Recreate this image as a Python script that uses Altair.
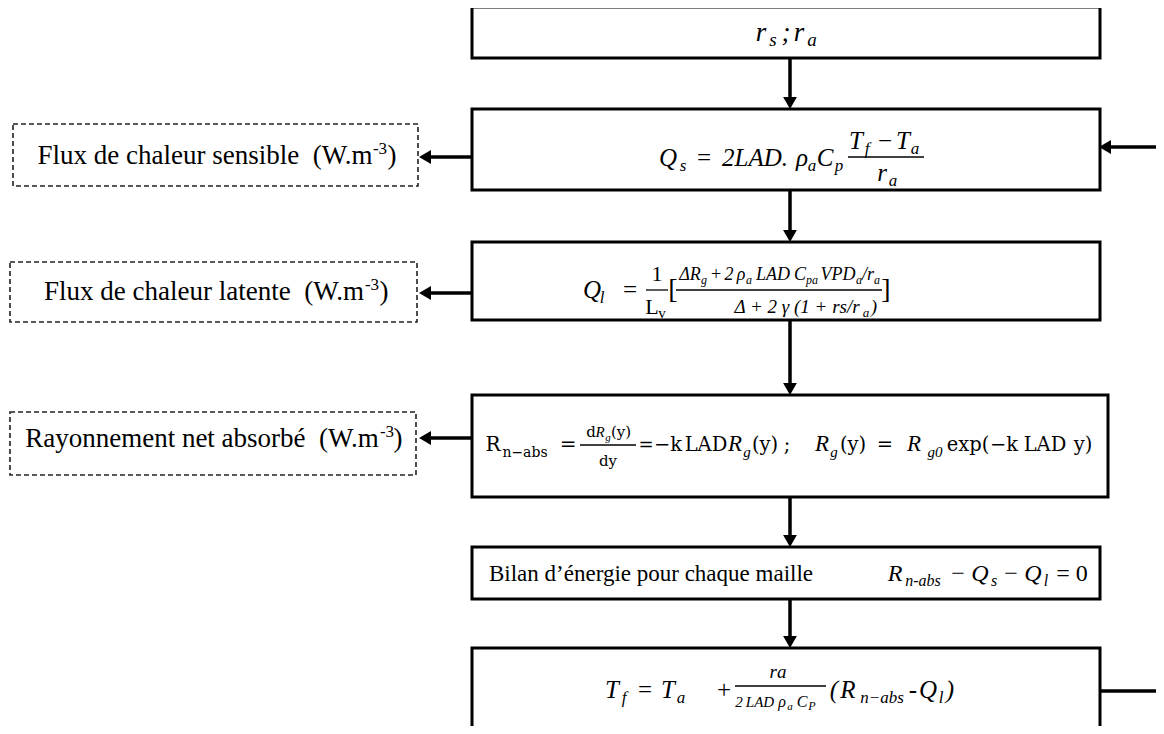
import altair as alt
import pandas as pd

NB = "\u00a0"

# ---------------- boxes (reference pixel coordinates) ----------------
box_x1 = [472, 472, 472, 472, 472, 472]
box_x2 = [1100, 1100, 1100, 1108, 1100, 1100]
box_y1 = [7, 109, 242, 395, 547, 648]
box_y2 = [58, 190, 320, 497, 599, 732]

dbox_x1 = [13, 10, 10]
dbox_x2 = [418, 417, 416]
dbox_y1 = [124, 262, 412]
dbox_y2 = [186, 322, 475]

# ---------------- connectors ----------------
seg_x1 = [790, 790, 790, 790, 790, 472, 472, 472, 1156, 1100]
seg_x2 = [790, 790, 790, 790, 790, 424, 424, 424, 1106, 1156]
seg_y1 = [58, 190, 320, 497, 599, 157, 293, 438, 147, 691]
seg_y2 = [103, 236, 389, 541, 642, 157, 293, 438, 147, 691]

head_x = [790, 790, 790, 790, 790, 425, 425, 425, 1105]
head_y = [103, 236, 389, 541, 642, 157, 293, 438, 147]
head_shape = ["triangle-down"] * 5 + ["triangle-left"] * 4

# fraction bars
bar_x1 = [848, 646, 676, 580, 735]
bar_x2 = [924, 668, 882, 636, 826]
bar_y = [157, 290, 290, 445, 686]

# ---------------- text pieces: text, centre x, baseline y, size, font key ----------------
txt = [
    # left labels
    ("Flux de chaleur sensible" + NB + NB + "(W.m", 205, 164, 27, "tr"), ("-3", 380, 154, 17, "tr"), (")", 392, 164, 27, "tr"),
    ("Flux de chaleur latente" + NB + NB + "(W.m", 204, 300, 27, "tr"), ("-3", 372, 290, 17, "tr"), (")", 384, 300, 27, "tr"),
    ("Rayonnement net absorbé" + NB + NB + "(W.m", 202, 447, 27, "tr"), ("-3", 387, 437, 17, "tr"), (")", 398, 447, 27, "tr"),
    # box 1
    ("r", 761, 41, 27, "ti"), ("s", 773, 46, 19, "ti"), (";", 786, 41, 27, "ti"),
    ("r", 799, 41, 27, "ti"), ("a", 812, 46, 19, "ti"),
    # box 2
    ("Q", 668, 166, 25, "ti"), ("s", 683, 171, 17, "ti"), ("=", 704, 166, 25, "tr"),
    ("2LAD.", 755, 166, 25, "ti"), ("ρ", 802, 166, 25, "ti"), ("a", 812, 171, 17, "ti"),
    ("C", 825, 166, 25, "ti"), ("p", 839, 171, 17, "ti"),
    ("T", 856, 149, 25, "ti"), ("f", 867, 154, 17, "ti"), ("−", 885, 149, 25, "tr"),
    ("T", 903, 149, 25, "ti"), ("a", 915, 154, 17, "ti"),
    ("r", 882, 181, 25, "ti"), ("a", 893, 186, 17, "ti"),
    # box 3
    ("Q", 592, 298, 25, "ti"), ("l", 602, 303, 17, "ti"), ("=", 630, 298, 25, "tr"),
    ("1", 657, 281, 22, "tr"), ("L", 652, 314, 22, "tr"), ("v", 662, 318, 15, "tr"),
    ("[", 673, 298, 28, "tr"),
    ("ΔR", 690, 280, 18, "ti"), ("g", 704, 284, 12, "ti"), ("+", 716, 280, 18, "tr"),
    ("2", 729, 280, 18, "ti"), ("ρ", 741, 280, 18, "ti"), ("a", 749, 284, 12, "ti"),
    ("LAD", 773, 280, 18, "ti"), ("C", 800, 280, 18, "ti"), ("pa", 812, 284, 12, "ti"),
    ("VPD", 838, 280, 18, "ti"), ("a", 859, 284, 12, "ti"), ("/r", 868, 280, 18, "ti"),
    ("a", 877, 284, 12, "ti"),
    ("Δ + 2 γ (1 + rs/r", 797, 313, 19, "ti"), ("a", 866, 317, 13, "ti"), (")", 874, 313, 19, "ti"),
    ("]", 886, 298, 28, "tr"),
    # box 4
    ("R", 493, 451, 20, "dr"), ("n−abs", 525, 457, 14, "dr"), ("=", 568, 451, 20, "dr"),
    ("d", 591, 437, 15, "dr"), ("R", 600, 437, 15, "ti"), ("g", 608, 441, 11, "ti"), ("(y)", 621, 437, 15, "dr"),
    ("dy", 608, 466, 15, "dr"),
    ("=", 646, 451, 18, "dr"), ("−k", 668, 451, 19.5, "dr"), ("LAD", 706, 451, 19.5, "dr"),
    ("R", 735, 451, 23, "ti"), ("g", 747, 457, 15, "ti"), ("(y)", 765, 451, 19.5, "dr"),
    (";", 787, 451, 19.5, "dr"), ("R", 822, 451, 23, "ti"), ("g", 834, 457, 15, "ti"),
    ("(y)", 853, 451, 19.5, "dr"), ("=", 885, 451, 19.5, "dr"), ("R", 914, 451, 23, "ti"),
    ("g0", 935, 457, 15, "ti"), ("exp(", 968, 451, 19.5, "dr"), ("−k", 1004, 451, 19.5, "dr"),
    ("LAD", 1045, 451, 19.5, "dr"), ("y)", 1083, 451, 19.5, "dr"),
    # box 5
    ("Bilan d’énergie pour chaque maille", 651, 581, 23, "tr"),
    ("R", 895, 581, 24, "ti"), ("n-abs", 923, 586, 16, "ti"), ("−", 958, 581, 24, "tr"),
    ("Q", 980, 581, 24, "ti"), ("s", 994, 586, 16, "ti"), ("−", 1011, 581, 24, "tr"),
    ("Q", 1033, 581, 24, "ti"), ("l", 1046, 586, 16, "ti"), ("= 0", 1072, 581, 24, "tr"),
    # box 6
    ("T", 612, 698, 25, "ti"), ("f", 624, 703, 17, "ti"), ("=", 645, 698, 25, "tr"),
    ("T", 668, 698, 25, "ti"), ("a", 681, 703, 17, "ti"), ("+", 724, 698, 25, "tr"),
    ("ra", 778, 678, 19, "ti"),
    ("2", 739, 707, 15, "ti"), ("LAD", 760, 707, 15, "ti"), ("ρ", 782, 707, 16, "ti"),
    ("a", 790, 710, 11, "ti"), ("C", 802, 707, 16, "ti"), ("P", 812, 710, 12, "ti"),
    ("(", 834, 698, 25, "ti"), ("R", 848, 698, 25, "ti"), ("n−abs", 882, 703, 17, "ti"),
    ("-", 913, 698, 25, "tr"), ("Q", 928, 698, 25, "ti"), ("l", 941, 703, 17, "ti"), (")", 950, 698, 25, "ti"),
]

fonts = {
    "tr": ("Liberation Serif", "normal"),
    "ti": ("Liberation Serif", "italic"),
    "dr": ("DejaVu Serif", "normal"),
}

# ---------------- build ----------------
xs = alt.Scale(domain=[8, 1156], nice=False, zero=False)
ys = alt.Scale(domain=[8, 726], nice=False, zero=False, reverse=True)

boxes = pd.DataFrame({"x1": box_x1, "x2": box_x2, "y1": box_y1, "y2": box_y2})
dboxes = pd.DataFrame({"x1": dbox_x1, "x2": dbox_x2, "y1": dbox_y1, "y2": dbox_y2})
segs = pd.DataFrame({"x1": seg_x1, "x2": seg_x2, "y1": seg_y1, "y2": seg_y2})
heads = pd.DataFrame({"x": head_x, "y": head_y, "shape": head_shape})
bars = pd.DataFrame({"x1": bar_x1, "x2": bar_x2, "y": bar_y})
texts = pd.DataFrame(txt, columns=["t", "x", "y", "size", "f"])


def rect_enc(ch):
    return ch.encode(
        x=alt.X("x1:Q", scale=xs, axis=None),
        x2="x2:Q",
        y=alt.Y("y1:Q", scale=ys, axis=None),
        y2="y2:Q",
    )


box_layer = rect_enc(alt.Chart(boxes).mark_rect(fill="white", stroke="black", strokeWidth=3))
dbox_layer = rect_enc(
    alt.Chart(dboxes).mark_rect(fill="white", stroke="#222222", strokeWidth=1.6, strokeDash=[5, 3])
)
seg_layer = rect_enc(alt.Chart(segs).mark_rule(color="black", strokeWidth=3.5))
head_layer = alt.Chart(heads).mark_point(filled=True, color="black", opacity=1, size=190).encode(
    x=alt.X("x:Q", scale=xs, axis=None),
    y=alt.Y("y:Q", scale=ys, axis=None),
    shape=alt.Shape("shape:N", scale=None),
)
bar_layer = alt.Chart(bars).mark_rule(color="black", strokeWidth=1.3).encode(
    x=alt.X("x1:Q", scale=xs, axis=None),
    x2="x2:Q",
    y=alt.Y("y:Q", scale=ys, axis=None),
)

text_layers = []
for key, (fam, sty) in fonts.items():
    text_layers.append(
        alt.Chart(texts)
        .transform_filter(alt.datum.f == key)
        .mark_text(font=fam, fontStyle=sty, align="center", baseline="alphabetic", color="black")
        .encode(
            x=alt.X("x:Q", scale=xs, axis=None),
            y=alt.Y("y:Q", scale=ys, axis=None),
            text="t:N",
            size=alt.Size("size:Q", scale=None),
        )
    )

chart = (
    alt.layer(box_layer, dbox_layer, seg_layer, head_layer, bar_layer, *text_layers)
    .properties(width=1148, height=718, padding=0, autosize=alt.AutoSizeParams(type="none"), background="white")
    .configure_view(stroke=None)
)

chart.save("out.html", embed_options={"renderer": "svg", "actions": False})
